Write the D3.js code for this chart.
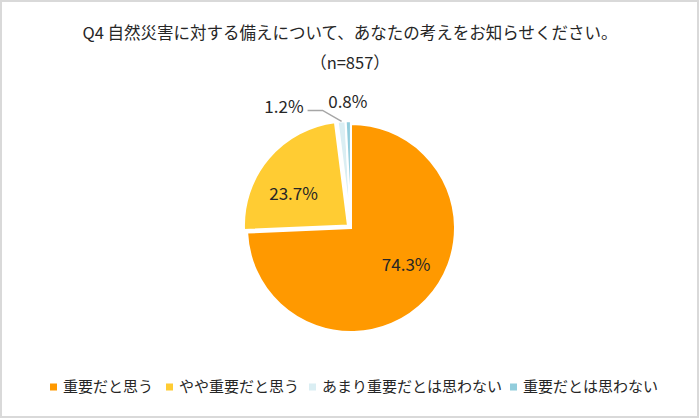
<!DOCTYPE html>
<html>
<head>
<meta charset="utf-8">
<script src="https://cdn.jsdelivr.net/npm/d3@7"></script>
<style>
  body { margin: 0; background: #fff; }
  text { font-family: "Noto Sans CJK JP", "Noto Sans", sans-serif; fill: #262626; }
</style>
</head>
<body>
<script>
// chart data
var categories = ["重要だと思う", "やや重要だと思う", "あまり重要だとは思わない", "重要だとは思わない"];
var shares = [74.3, 23.7, 1.2, 0.8];
var colours = ["#FF9900", "#FFCC33", "#DAEEF3", "#92CDDC"];
var title = "Q4 自然災害に対する備えについて、あなたの考えをお知らせください。";
var subtitle = "（n=857）";

var width = 700, height = 419;

var svg = d3.select("body").append("svg")
    .attr("width", width)
    .attr("height", height);

// chart frame
svg.append("rect")
    .attr("x", 1).attr("y", 1)
    .attr("width", width - 3).attr("height", height - 3)
    .attr("fill", "#fff")
    .attr("stroke", "#D9D9D9")
    .attr("stroke-width", 2);

svg.append("text")
    .attr("x", 350).attr("y", 39)
    .attr("text-anchor", "middle")
    .style("font-size", "16.5px")
    .text(title);

svg.append("text")
    .attr("x", 350).attr("y", 69)
    .attr("text-anchor", "middle")
    .style("font-size", "16.5px")
    .text(subtitle);

// pie
var cx = 351, cy = 228, radius = 104;
var explode = [0, 4, 3, 3]; //pixel offset for each slice
var labelTurn = -0.17; //excel puts the inside labels a bit anticlockwise of the middle

var pie = d3.pie().sort(null).value(function(d) { return d; });
var arcs = pie(shares);
var arc = d3.arc().innerRadius(0).outerRadius(radius);

var g = svg.append("g").attr("transform", "translate(" + cx + "," + cy + ")");

function midAngle(d) { return (d.startAngle + d.endAngle) / 2; }

g.selectAll(".slice")
    .data(arcs)
    .enter()
  .append("path")
    .attr("class", "slice")
    .attr("d", arc)
    .attr("fill", function(d, i) { return colours[i]; })
    .attr("stroke", "#fff")
    .attr("stroke-width", 2)
    .attr("stroke-linejoin", "miter")
    .attr("transform", function(d, i) {
        var a = midAngle(d);
        return "translate(" + (Math.sin(a) * explode[i]) + "," + (-Math.cos(a) * explode[i]) + ")";
    });

// inside labels for the big slices
g.selectAll(".inLabel")
    .data(arcs.slice(0, 2))
    .enter()
  .append("text")
    .attr("class", "inLabel")
    .attr("transform", function(d, i) {
        var a = midAngle(d) + labelTurn;
        var r = radius * 0.64;
        return "translate(" + (Math.sin(a) * r) + "," + (-Math.cos(a) * r) + ")";
    })
    .attr("text-anchor", "middle")
    .attr("dy", "0.35em")
    .style("font-size", "17px")
    .text(function(d) { return d.data.toFixed(1) + "%"; });

// outside labels for the small slices
var small = arcs.slice(2);

// 0.8% sits straight above its slice
var last = small[1];
var aLast = midAngle(last);
g.append("text")
    .attr("x", Math.sin(aLast) * (radius + 22))
    .attr("y", -Math.cos(aLast) * (radius + 22))
    .attr("text-anchor", "middle")
    .attr("dy", "0.35em")
    .style("font-size", "17px")
    .text(last.data.toFixed(1) + "%");

// 1.2% pushed to the left with a leader line
var first = small[0];
var aFirst = midAngle(first);
var p0 = [Math.sin(aFirst) * (radius + 3), -Math.cos(aFirst) * (radius + 3)];
var p1 = [p0[0] - 19, p0[1] - 11];
var p2 = [p1[0] - 15, p1[1]];
g.append("polyline")
    .attr("points", [p0, p1, p2].map(function(p) { return p.join(","); }).join(" "))
    .attr("fill", "none")
    .attr("stroke", "#A6A6A6")
    .attr("stroke-width", 1.5);
g.append("text")
    .attr("x", p2[0] - 4)
    .attr("y", p2[1] - 3)
    .attr("text-anchor", "end")
    .attr("dy", "0.35em")
    .style("font-size", "17px")
    .text(first.data.toFixed(1) + "%");

// legend
var legendX = [50, 166, 309, 510];
var legend = svg.selectAll(".legend")
    .data(categories)
    .enter()
  .append("g")
    .attr("class", "legend")
    .attr("transform", function(d, i) { return "translate(" + legendX[i] + ",387)"; });

legend.append("rect")
    .attr("x", 0).attr("y", -3.5)
    .attr("width", 7).attr("height", 7)
    .attr("fill", function(d, i) { return colours[i]; });

legend.append("text")
    .attr("x", 13)
    .attr("dy", "0.35em")
    .style("font-size", "15px")
    .text(function(d) { return d; });
</script>
</body>
</html>
